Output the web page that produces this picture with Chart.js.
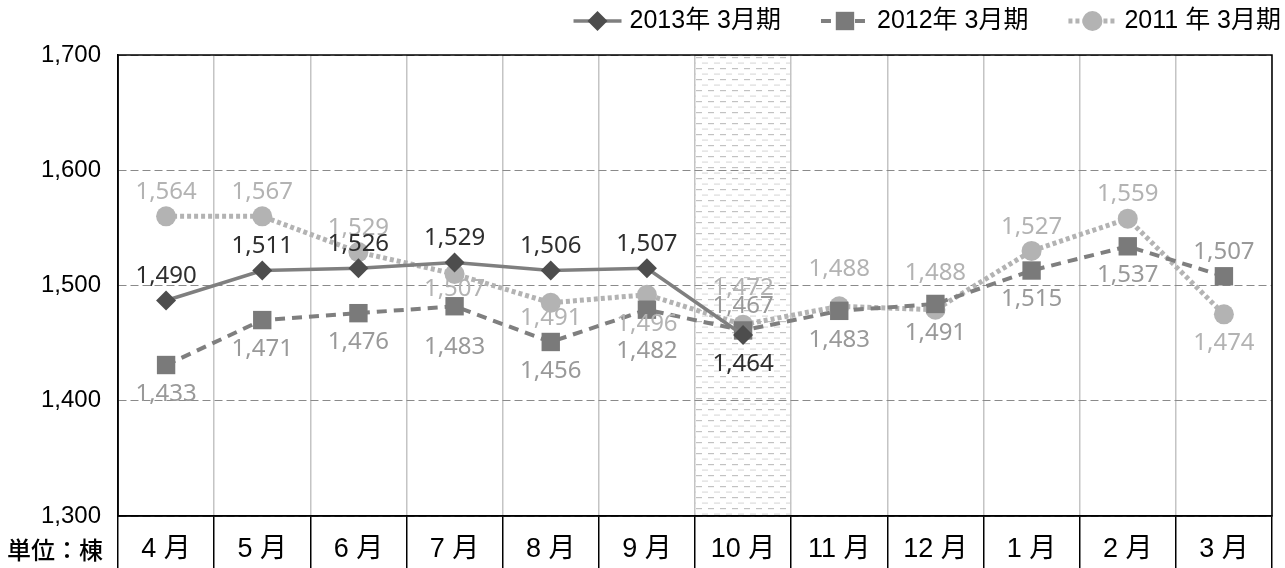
<!DOCTYPE html>
<html><head><meta charset="utf-8">
<script src="https://cdn.jsdelivr.net/npm/chart.js@4.4.1/dist/chart.umd.min.js"></script>
<style>html,body{margin:0;padding:0;background:#fff;}#wrap{width:1285px;height:568px;}</style>
</head><body><div id="wrap"><canvas id="c" width="1285" height="568"></canvas></div>
<script>
// ---- data ----
const months = ['4 月','5 月','6 月','7 月','8 月','9 月','10 月','11 月','12 月','1 月','2 月','3 月'];
const seriesNames = ['2013年 3月期', '2012年 3月期', '2011 年 3月期'];
const fy2013 = [1487, 1513, 1515, 1520, 1513, 1515, 1457, null, null, null, null, null];
const fy2012 = [1431, 1470, 1476, 1482, 1451, 1479, 1461, 1478, 1484, 1513, 1534, 1508];
const fy2011 = [1560, 1560, 1529, 1510, 1485, 1492, 1466, 1482, 1479, 1530, 1558, 1475];
const labels2013 = ['1,490','1,511','1,526','1,529','1,506','1,507','1,464', null, null, null, null, null];
const labels2012 = ['1,433','1,471','1,476','1,483','1,456','1,482','1,467','1,483','1,491','1,515','1,537','1,507'];
const labels2011 = ['1,564','1,567','1,529','1,507','1,491','1,496','1,472','1,488','1,488','1,527','1,559','1,474'];
// label placement: a = above, aa = further above, b = below, bb = further below, n = just below
const place2013 = ['a','a','a','a','a','a','b', null, null, null, null, null];
const place2012 = ['b','b','b','bb','b','bb','a','b','b','b','b','a'];
const place2011 = ['a','a','a','n','n','b','aa','aa','aa','a','a','b'];
const yTicks = [1300, 1400, 1500, 1600, 1700];
const shadedMonth = '10 月';
const unitLabel = '単位：棟';

// ---- styles ----
const placeOffset = {a: -24, aa: -37, b: 29, bb: 41, n: 15};
const labelColors = ['#2e2e2e', '#999999', '#b3b3b3'];
const allLabels = [labels2013, labels2012, labels2011];
const allPlaces = [place2013, place2012, place2011];

const hatchPlugin = {
  id: 'hatch',
  beforeDraw(chart) {
    const ctx = chart.ctx, area = chart.chartArea, xs = chart.scales.x;
    ctx.save();
    ctx.fillStyle = '#fff';
    ctx.fillRect(0, 0, chart.width, chart.height);
    const idx = months.indexOf(shadedMonth);
    const cx = xs.getPixelForValue(idx);
    const half = (xs.getPixelForValue(1) - xs.getPixelForValue(0)) / 2;
    const tile = document.createElement('canvas');
    tile.width = 12; tile.height = 11;
    const t = tile.getContext('2d');
    t.fillStyle = '#c2c2c2'; t.fillRect(0, 2, 6, 1.2);
    t.fillStyle = '#dcdcdc'; t.fillRect(6, 7.5, 6, 1.2);
    const pat = ctx.createPattern(tile, 'repeat');
    ctx.fillStyle = pat;
    ctx.fillRect(cx - half, area.top, half * 2, area.bottom - area.top);
    ctx.restore();
  }
};

const framePlugin = {
  id: 'frame',
  beforeDatasetsDraw(chart) {
    const ctx = chart.ctx, a = chart.chartArea;
    ctx.save();
    ctx.strokeStyle = '#000';
    ctx.lineWidth = 1.5;
    ctx.strokeRect(a.left, a.top, a.right - a.left, a.bottom - a.top);
    ctx.restore();
  }
};

const labelPlugin = {
  id: 'valueLabels',
  afterDatasetsDraw(chart) {
    const ctx = chart.ctx;
    ctx.save();
    ctx.font = '24px "Noto Sans"';
    ctx.textAlign = 'center';
    ctx.textBaseline = 'middle';
    for (let d = 2; d >= 0; d--) {
      const meta = chart.getDatasetMeta(d);
      ctx.fillStyle = labelColors[d];
      meta.data.forEach((el, i) => {
        const txt = allLabels[d][i];
        if (!txt) return;
        ctx.fillText(txt, el.x, el.y + placeOffset[allPlaces[d][i]]);
      });
    }
    ctx.restore();
  }
};

const legendPlugin = {
  id: 'customLegend',
  afterDraw(chart) {
    const ctx = chart.ctx;
    ctx.save();
    ctx.font = '25px "Liberation Sans", "Noto Sans CJK JP"';
    ctx.textBaseline = 'middle';
    const y = 21, lineW = 48, gap = 8, itemGap = 40;
    let x = 1281;
    const ds = chart.data.datasets;
    for (let i = ds.length - 1; i >= 0; i--) {
      const d = ds[i];
      const tw = ctx.measureText(d.label).width;
      x -= tw;
      ctx.fillStyle = '#000';
      ctx.textAlign = 'left';
      ctx.fillText(d.label, x, y);
      x -= gap;
      const x0 = x - lineW;
      ctx.beginPath();
      ctx.setLineDash(d.borderDash || []);
      ctx.strokeStyle = d.borderColor;
      ctx.lineWidth = d.borderWidth;
      ctx.moveTo(x0, y); ctx.lineTo(x, y);
      ctx.stroke();
      ctx.setLineDash([]);
      ctx.fillStyle = d.pointBackgroundColor;
      ctx.strokeStyle = d.pointBorderColor;
      Chart.helpers.drawPoint(ctx, {pointStyle: d.pointStyle, radius: d.pointRadius, rotation: 0, borderWidth: 0}, (x0 + x) / 2, y);
      x = x0 - itemGap;
    }
    // unit label
    ctx.font = '500 24px "Noto Sans CJK JP"';
    ctx.fillStyle = '#000';
    ctx.textAlign = 'center';
    ctx.textBaseline = 'middle';
    ctx.fillText(unitLabel, 55, 550);
    ctx.restore();
  }
};

new Chart(document.getElementById('c'), {
  type: 'line',
  data: {
    labels: months,
    datasets: [
      {label: seriesNames[0], data: fy2013, borderColor: '#7f7f7f', borderWidth: 3.5,
       pointStyle: 'rectRot', pointRadius: 10, pointBackgroundColor: '#4d4d4d', pointBorderColor: '#4d4d4d', pointBorderWidth: 0},
      {label: seriesNames[1], data: fy2012, borderColor: '#7f7f7f', borderWidth: 4, borderDash: [10, 7],
       pointStyle: 'rect', pointRadius: 13, pointBackgroundColor: '#7a7a7a', pointBorderColor: '#7a7a7a', pointBorderWidth: 0},
      {label: seriesNames[2], data: fy2011, borderColor: '#b3b3b3', borderWidth: 5, borderDash: [4, 3],
       pointStyle: 'circle', pointRadius: 10, pointBackgroundColor: '#b3b3b3', pointBorderColor: '#b3b3b3', pointBorderWidth: 0}
    ]
  },
  options: {
    responsive: false,
    animation: false,
    devicePixelRatio: 1,
    spanGaps: false,
    layout: {padding: {top: 55, right: 2, left: 0, bottom: 0}},
    plugins: {legend: {display: false}, tooltip: {enabled: false}},
    scales: {
      x: {
        offset: true,
        grid: {offset: true, color: '#c4c4c4', lineWidth: 1.5, tickColor: '#000', tickLength: 52, tickWidth: 1.5, drawTicks: true},
        border: {display: true, color: '#000', width: 1.5},
        ticks: {color: '#000', padding: -35, maxRotation: 0, autoSkip: false,
                font: {family: '"Liberation Sans", "Noto Sans CJK JP"', size: 27}},
        afterFit(s) { s.height = 52; }
      },
      y: {
        min: 1300, max: 1700,
        afterBuildTicks(s) { s.ticks = yTicks.map(v => ({value: v})); },
        grid: {color: '#8a8a8a', lineWidth: 1, drawTicks: false},
        border: {display: true, color: '#000', width: 1.5, dash: [8, 4]},
        ticks: {color: '#000', padding: 17, font: {family: '"Liberation Sans"', size: 24},
                callback: v => v.toLocaleString('en-US')},
        afterFit(s) { s.width = 118; }
      }
    }
  },
  plugins: [hatchPlugin, framePlugin, labelPlugin, legendPlugin]
});
</script></body></html>
